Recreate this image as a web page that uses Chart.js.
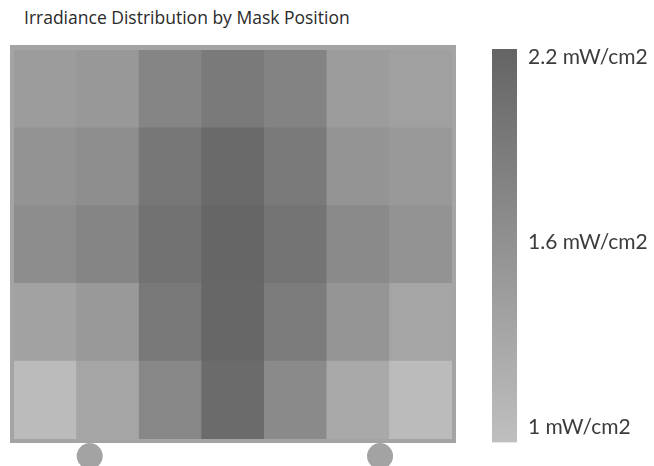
<!DOCTYPE html>
<html>
<head>
<meta charset="utf-8">
<script src="https://cdn.jsdelivr.net/npm/chart.js@4.4.0/dist/chart.umd.min.js"></script>
<style>
  body { margin: 0; width: 654px; height: 466px; overflow: hidden; background: #fff; position: relative; }
  #title { position: absolute; left: 24px; top: 6px; font: 17.5px "Open Sans"; line-height: 22px; color: #2a2a2a; white-space: nowrap; }
  #heatBox { position: absolute; left: 0; top: 0; width: 480px; height: 466px; }
  #barBox { position: absolute; left: 470px; top: 0; width: 184px; height: 466px; }
</style>
</head>
<body>
<div id="title">Irradiance Distribution by Mask Position</div>
<div id="heatBox"><canvas id="heat"></canvas></div>
<div id="barBox"><canvas id="colorbar"></canvas></div>
<script>
// mask positions, left to right
var columns = ["1", "2", "3", "4", "5", "6", "7"];

// irradiance (mW/cm2), row 1 = top of the mask
var row1 = [1.44, 1.49, 1.76, 1.92, 1.79, 1.44, 1.38];
var row2 = [1.56, 1.64, 1.96, 2.14, 1.92, 1.55, 1.48];
var row3 = [1.65, 1.76, 2.03, 2.20, 2.00, 1.69, 1.56];
var row4 = [1.35, 1.48, 1.95, 2.19, 1.89, 1.54, 1.31];
var row5 = [1.00, 1.31, 1.73, 2.13, 1.69, 1.25, 1.00];

// colour bar
var colorbarTicks = [1, 1.6, 2.2];
var colorbarMin = 0.95;
var colorbarMax = 2.227;
var unit = "mW/cm2";

// stand feet under the mask (column / row units)
var feetX = [0.71, 5.35];
var feetY = [-0.22, -0.22];

// grey scale: 1 -> light, 2.2 -> dark
function colorFor(v) {
  var g = Math.round(187 - (v - 1) / 1.2 * 85);
  return "rgb(" + g + "," + g + "," + g + ")";
}

function rowDataset(row) {
  return {
    type: "bar",
    data: row.map(function () { return 1; }),
    backgroundColor: row.map(colorFor),
    borderWidth: 0,
    grouped: false,
    categoryPercentage: 1,
    barPercentage: 1
  };
}

var framePlugin = {
  id: "frame",
  beforeDatasetsDraw: function (chart) {
    var a = chart.chartArea;
    var ctx = chart.ctx;
    ctx.save();
    ctx.fillStyle = "#a4a4a4";
    ctx.fillRect(a.left - 4, a.top - 5, a.right - a.left + 8, a.bottom - a.top + 9);
    ctx.restore();
  }
};

new Chart(document.getElementById("heat"), {
  type: "bar",
  data: {
    labels: columns,
    datasets: [
      rowDataset(row5),
      rowDataset(row4),
      rowDataset(row3),
      rowDataset(row2),
      rowDataset(row1),
      {
        type: "scatter",
        xAxisID: "xFeet",
        yAxisID: "yFeet",
        data: feetX.map(function (x, i) { return { x: x, y: feetY[i] }; }),
        pointRadius: 13,
        pointBackgroundColor: "#a3a3a3",
        pointBorderWidth: 8,
        pointBorderColor: "rgba(0,0,0,0)",
        showLine: false,
        clip: false
      }
    ]
  },
  options: {
    responsive: true,
    maintainAspectRatio: false,
    animation: false,
    layout: { autoPadding: false, padding: { left: 14, right: 28, top: 50, bottom: 27 } },
    scales: {
      x: { type: "category", stacked: true, offset: true, display: false },
      y: { stacked: true, min: 0, max: 5, display: false },
      xFeet: { type: "linear", min: -0.5, max: 6.5, offset: false, display: false },
      yFeet: { type: "linear", min: 0, max: 5, offset: false, display: false }
    },
    plugins: { legend: { display: false }, tooltip: { enabled: false } }
  },
  plugins: [framePlugin]
});

new Chart(document.getElementById("colorbar"), {
  type: "bar",
  data: {
    labels: [""],
    datasets: [{
      data: [[colorbarMin, colorbarMax]],
      borderWidth: 0,
      categoryPercentage: 1,
      barPercentage: 1,
      backgroundColor: function (context) {
        var chart = context.chart;
        var a = chart.chartArea;
        if (!a) return null;
        var g = chart.ctx.createLinearGradient(0, a.bottom, 0, a.top);
        g.addColorStop(0, colorFor(colorbarMin));
        g.addColorStop(1, colorFor(colorbarMax));
        return g;
      }
    }]
  },
  options: {
    responsive: true,
    maintainAspectRatio: false,
    animation: false,
    layout: { autoPadding: false, padding: { left: 22, right: 0, top: 49, bottom: 21 } },
    scales: {
      x: { display: false, offset: true },
      y: {
        position: "right",
        min: colorbarMin,
        max: colorbarMax,
        grid: { display: false, drawTicks: false },
        border: { display: false },
        afterBuildTicks: function (axis) {
          axis.ticks = colorbarTicks.map(function (v) { return { value: v }; });
        },
        afterFit: function (axis) { axis.width = 137; },
        ticks: {
          padding: 11,
          color: "#3c3c3c",
          font: { family: "Lato", size: 21 },
          callback: function (v) { return v + " " + unit; }
        }
      }
    },
    plugins: { legend: { display: false }, tooltip: { enabled: false } }
  }
});
</script>
</body>
</html>
